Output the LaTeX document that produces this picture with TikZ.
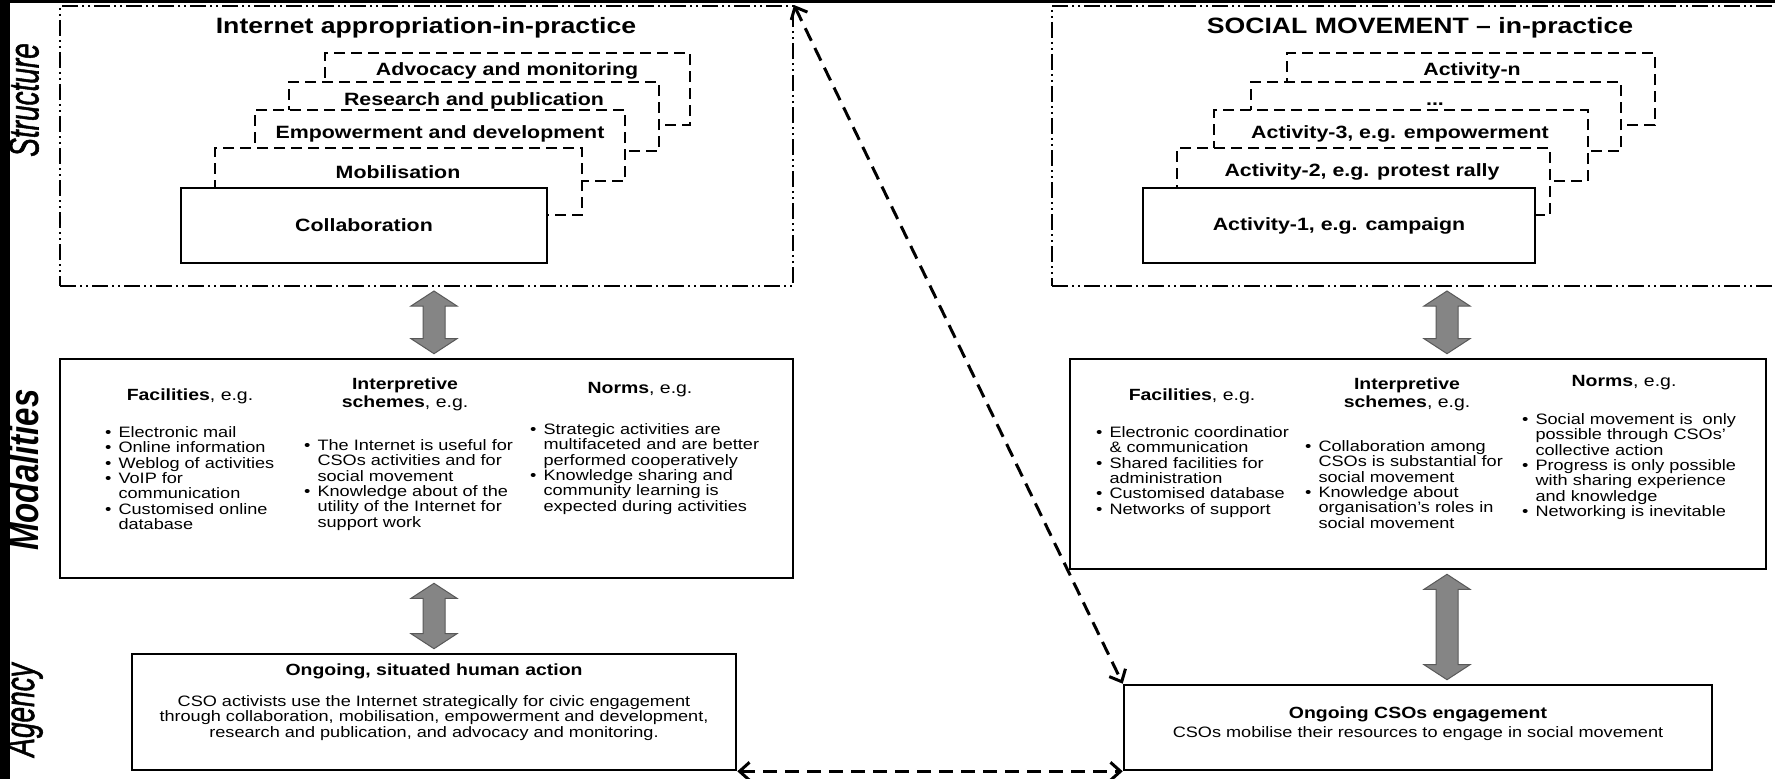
\documentclass[tikz,border=0pt]{standalone}
\usepackage{fontspec}
\usepackage{graphicx}
\setmainfont{Liberation Sans}[FakeStretch=1.2]
\newfontfamily\sidefont{Liberation Sans}
\newfontfamily\sidefontmid{Liberation Sans}[FakeBold=1.5]
\usetikzlibrary{arrows.meta,calc}

% bullet list as a two-column table (bullet, text)
\newcommand{\bu}{\textbullet}
\newcommand{\itemrows}[1]{\begin{tabular}{@{}l@{\hspace{7pt}}l@{}}#1\end{tabular}}

% grey two-way block arrow between two anchors
\newcommand{\twoway}[2]{%
  \path (#1) ++(0,4) coordinate (tw-t);
  \path (#2) ++(0,-4) coordinate (tw-b);
  \filldraw[grayblock] (tw-t) -- ($(tw-t)+(23,15)$) -- ($(tw-t)+(11,15)$)
    -- ($(tw-b)+(11,-15)$) -- ($(tw-b)+(23,-15)$) -- (tw-b)
    -- ($(tw-b)+(-23,-15)$) -- ($(tw-b)+(-11,-15)$)
    -- ($(tw-t)+(-11,15)$) -- ($(tw-t)+(-23,15)$) -- cycle;
}

\tikzset{
  dashdotbox/.style={draw, line width=2pt, inner sep=0pt,
    dash pattern=on 16pt off 4pt on 2pt off 4pt on 2pt off 4pt},
  stackbox/.style={draw, fill=white, line width=2.8pt, inner sep=0pt,
    dash pattern=on 11pt off 6pt},
  frontbox/.style={draw, fill=white, line width=2.6pt, inner sep=0pt,
    font=\fontsize{17.8}{20}\selectfont\bfseries},
  panelbox/.style={draw, line width=2.6pt, inner sep=0pt},
  boxlabel/.style={font=\fontsize{17.8}{20}\selectfont\bfseries, inner sep=0pt},
  titletext/.style={font=\fontsize{22.2}{26}\selectfont\bfseries, inner sep=0pt},
  headtext/.style={font=\fontsize{16.2}{18}\selectfont, align=center, inner sep=0pt},
  itemlist/.style={font=\fontsize{15.1}{15}\selectfont, anchor=north west, inner sep=0pt},
  bodytext/.style={font=\fontsize{15.1}{15.8}\selectfont, align=center, inner sep=0pt},
  sidelabel/.style={rotate=90, font=\sidefontmid\fontsize{28}{30}\selectfont\itshape, inner sep=0pt},
  dashlink/.style={line width=3pt, dash pattern=on 14pt off 8pt,
    {Straight Barb[length=10pt,width=18pt]}-{Straight Barb[length=10pt,width=18pt]}},
  grayblock/.style={fill=black!48, draw=black!65, line width=1pt},
}

\begin{document}
\begin{tikzpicture}[x=1pt, y=-1pt]
\useasboundingbox (0,0) rectangle (1775,779);
\fill[black] (0,0) rectangle (10,779);
\fill[black] (0,0) rectangle (1775,3);

% side labels
\node[sidelabel] (lblstruct) at (24,100) {\scalebox{1}[1.5]{Structure}};
\node[sidelabel, font=\sidefont\fontsize{33}{35}\selectfont\itshape\bfseries] (lblmodal) at (24,470) {\scalebox{1}[1.25]{Modalities}};
\node[sidelabel] (lblagency) at (24,710) {\scalebox{1}[1.5]{Agency}};

% structure frames
\node[dashdotbox, minimum width=733pt, minimum height=280pt] (lstruct) at (426.5,146) {};
\node[dashdotbox, minimum width=748pt, minimum height=280pt] (rstruct) at (1426,146) {};
\node[titletext] (ltitle) at (426,28) {Internet appropriation-in-practice};
\node[titletext] (rtitle) at (1420,28) {SOCIAL MOVEMENT -- in-practice};

% left stack, back to front
\node[stackbox, minimum width=365pt, minimum height=72pt] (advocacy) at (507.5,89) {};
\node[stackbox, minimum width=370pt, minimum height=69pt] (research) at (474,116.5) {};
\node[stackbox, minimum width=370pt, minimum height=71pt] (empower) at (440,145.5) {};
\node[stackbox, minimum width=367pt, minimum height=67pt] (mobilise) at (398.5,181.5) {};
\node[frontbox, minimum width=366pt, minimum height=75pt] (collab) at (364,225.5) {Collaboration};
\node[boxlabel] (advocacy-txt) at (507,71) {Advocacy and monitoring};
\node[boxlabel] (research-txt) at (474,101) {Research and publication};
\node[boxlabel] (empower-txt) at (440,134) {Empowerment and development};
\node[boxlabel] (mobilise-txt) at (398,172) {Mobilisation};

% right stack, back to front
\node[stackbox, minimum width=368pt, minimum height=72pt] (actn) at (1471,89) {};
\node[stackbox, minimum width=370pt, minimum height=69pt] (actdots) at (1436,116.5) {};
\node[stackbox, minimum width=374pt, minimum height=71pt] (actthree) at (1401,145.5) {};
\node[stackbox, minimum width=373pt, minimum height=67pt] (acttwo) at (1363.5,181.5) {};
\node[frontbox, minimum width=392pt, minimum height=75pt] (actone) at (1339,225.5) {Activity-1, e.g. campaign};
\node[boxlabel] (actn-txt) at (1472,71) {Activity-n};
\node[boxlabel] (actdots-txt) at (1435,104) {...};
\node[boxlabel] (actthree-txt) at (1400,134) {Activity-3, e.g. empowerment};
\node[boxlabel] (acttwo-txt) at (1362,172) {Activity-2, e.g. protest rally};

% modalities and agency panels
\node[panelbox, minimum width=733pt, minimum height=219pt] (lmodal) at (426.5,468.5) {};
\node[panelbox, minimum width=696pt, minimum height=210pt] (rmodal) at (1418,464) {};
\node[panelbox, minimum width=604pt, minimum height=116pt] (lagency) at (434,712) {};
\node[panelbox, minimum width=588pt, minimum height=85pt] (ragency) at (1418,727.5) {};

% left modalities
\node[headtext] (lfachead) at (190,396) {\textbf{Facilities}, e.g.};
\node[headtext] (linthead) at (405,394) {\textbf{Interpretive}\\\textbf{schemes}, e.g.};
\node[headtext] (lnorhead) at (640,390) {\textbf{Norms}, e.g.};
\node[itemlist] (lfaclist) at (105,426) {\itemrows{\bu & Electronic mail\\ \bu & Online information\\ \bu & Weblog of activities\\ \bu & VoIP for\\ & communication\\ \bu & Customised online\\ & database}};
\node[itemlist] (lintlist) at (304,439) {\itemrows{\bu & The Internet is useful for\\ & CSOs activities and for\\ & social movement\\ \bu & Knowledge about of the\\ & utility of the Internet for\\ & support work}};
\node[itemlist] (lnorlist) at (530,423) {\itemrows{\bu & Strategic activities are\\ & multifaceted and are better\\ & performed cooperatively\\ \bu & Knowledge sharing and\\ & community learning is\\ & expected during activities}};

% right modalities
\node[headtext] (rfachead) at (1192,396) {\textbf{Facilities}, e.g.};
\node[headtext] (rinthead) at (1407,394) {\textbf{Interpretive}\\\textbf{schemes}, e.g.};
\node[headtext] (rnorhead) at (1624,383) {\textbf{Norms}, e.g.};
\node[itemlist] (rfaclist) at (1096,426) {\itemrows{\bu & Electronic coordinatior\\ & \& communication\\ \bu & Shared facilities for\\ & administration\\ \bu & Customised database\\ \bu & Networks of support}};
\node[itemlist] (rintlist) at (1305,440) {\itemrows{\bu & Collaboration among\\ & CSOs is substantial for\\ & social movement\\ \bu & Knowledge about\\ & organisation’s roles in\\ & social movement}};
\node[itemlist] (rnorlist) at (1522,413) {\itemrows{\bu & Social movement is\ \ only\\ & possible through CSOs’\\ & collective action\\ \bu & Progress is only possible\\ & with sharing experience\\ & and knowledge\\ \bu & Networking is inevitable}};

% agency texts
\node[boxlabel, font=\fontsize{16.2}{18}\selectfont\bfseries] (lacthead) at (434,671) {Ongoing, situated human action};
\node[bodytext] (lactbody) at (434,718) {CSO activists use the Internet strategically for civic engagement\\through collaboration, mobilisation, empowerment and development,\\research and publication, and advocacy and monitoring.};
\node[boxlabel, font=\fontsize{16.2}{18}\selectfont\bfseries] (racthead) at (1418,714) {Ongoing CSOs engagement};
\node[bodytext] (ractbody) at (1418,734) {CSOs mobilise their resources to engage in social movement};

% grey two-way arrows
\twoway{lstruct.south -| lagency.north}{lmodal.north -| lagency.north}
\twoway{lmodal.south -| lagency.north}{lagency.north}
\twoway{$(rmodal.north |- rstruct.south)+(29,0)$}{$(rmodal.north)+(29,0)$}
\twoway{$(rmodal.south)+(29,0)$}{$(rmodal.south |- ragency.north)+(29,0)$}

% dashed links
\draw[dashlink] (lstruct.north east) -- (ragency.north west);
\draw[dashlink] (lagency.south east) -- (ragency.south west);
\end{tikzpicture}
\end{document}
